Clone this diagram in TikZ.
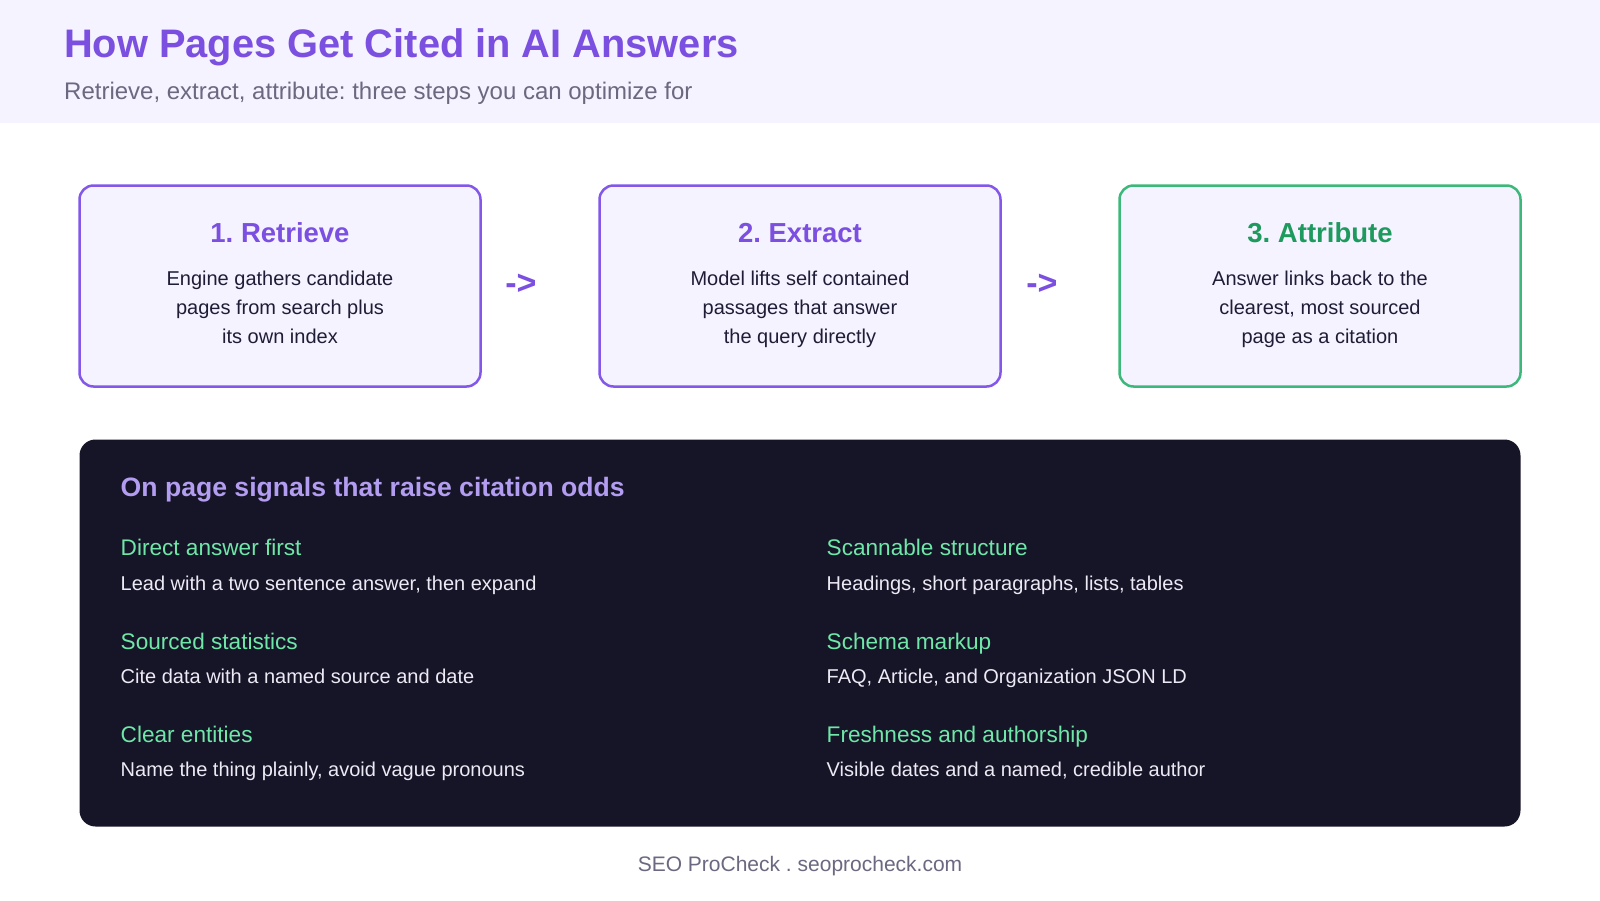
\documentclass[tikz,border=0pt]{standalone}
\usepackage{fontspec}
\setmainfont{Liberation Sans}
\frenchspacing
\definecolor{hdrbg}{HTML}{F5F3FF}
\definecolor{purp}{HTML}{7B4FE0}
\definecolor{purpline}{HTML}{8257E9}
\definecolor{grn}{HTML}{1F9A5E}
\definecolor{grnline}{HTML}{3CB97A}
\definecolor{boxfill}{HTML}{F5F3FF}
\definecolor{bodytxt}{HTML}{1F1D36}
\definecolor{subgray}{HTML}{6B6880}
\definecolor{panel}{HTML}{161427}
\definecolor{paneltitle}{HTML}{B39DF0}
\definecolor{mint}{HTML}{6EE7A8}
\definecolor{desc}{HTML}{ECEAF4}
\tikzset{
  stepbox/.style={draw=purpline, line width=2.5pt, fill=boxfill, rounded corners=14pt,
    minimum width=401pt, minimum height=201pt, inner sep=0pt},
  steptitle/.style={font=\fontsize{27.5}{32}\selectfont\bfseries, anchor=base, inner sep=0pt},
  stepbody/.style={font=\fontsize{20}{29}\selectfont, text=bodytxt, align=center, anchor=center, inner sep=0pt,
    execute at begin node={\strut}, execute at end node={\strut}},
  flowarrow/.style={font=\fontsize{34}{38}\selectfont\bfseries, text=purp, anchor=center, inner sep=0pt},
  sighead/.style={font=\fontsize{22.6}{26}\selectfont, text=mint, anchor=base west, inner sep=0pt},
  sigdesc/.style={font=\fontsize{20}{24}\selectfont, text=desc, anchor=base west, inner sep=0pt},
}
\begin{document}
\begin{tikzpicture}[x=1pt,y=-1pt]
\useasboundingbox (0,0) rectangle (1600,900);
\fill[white] (0,0) rectangle (1600,900);
\fill[hdrbg] (0,0) rectangle (1600,123);
\node[font=\fontsize{39.8}{46}\selectfont\bfseries, text=purp, anchor=base west, inner sep=0pt] (title) at (64,57) {How Pages Get Cited in AI Answers};
\node[font=\fontsize{24}{28}\selectfont, text=subgray, anchor=base west, inner sep=0pt] (subtitle) at (64,99) {Retrieve, extract, attribute: three steps you can optimize for};

\node[stepbox] (b1) at (280,286) {};
\node[stepbox] (b2) at (800,286) {};
\node[stepbox, draw=grnline] (b3) at (1320,286) {};

\node[steptitle, text=purp] (t1) at (280,242) {1. Retrieve};
\node[steptitle, text=purp] (t2) at (800,242) {2. Extract};
\node[steptitle, text=grn] (t3) at (1320,242) {3. Attribute};

\node[stepbody] (d1) at (280,311.5) {Engine gathers candidate\\pages from search plus\\its own index};
\node[stepbody] (d2) at (800,311.5) {Model lifts self contained\\passages that answer\\the query directly};
\node[stepbody] (d3) at (1320,311.5) {Answer links back to the\\clearest, most sourced\\page as a citation};

\node[flowarrow] (a1) at (521,284) {->};
\node[flowarrow] (a2) at (1042,284) {->};

\node[fill=panel, rounded corners=16pt, minimum width=1441pt, minimum height=387pt, inner sep=0pt] (panel) at (800,633) {};
\node[font=\fontsize{26.6}{30}\selectfont\bfseries, text=paneltitle, anchor=base west, inner sep=0pt] (ptitle) at (120.5,496) {On page signals that raise citation odds};

\node[sighead] (h1) at (120.5,555) {Direct answer first};
\node[sigdesc] (s1) at (120.5,590) {Lead with a two sentence answer, then expand};
\node[sighead] (h2) at (120.5,649) {Sourced statistics};
\node[sigdesc] (s2) at (120.5,683) {Cite data with a named source and date};
\node[sighead] (h3) at (120.5,742) {Clear entities};
\node[sigdesc] (s3) at (120.5,776.5) {Name the thing plainly, avoid vague pronouns};

\node[sighead] (h4) at (826.5,555) {Scannable structure};
\node[sigdesc] (s4) at (826.5,590) {Headings, short paragraphs, lists, tables};
\node[sighead] (h5) at (826.5,649) {Schema markup};
\node[sigdesc] (s5) at (826.5,683) {FAQ, Article, and Organization JSON LD};
\node[sighead] (h6) at (826.5,742) {Freshness and authorship};
\node[sigdesc] (s6) at (826.5,776.5) {Visible dates and a named, credible author};

\node[font=\fontsize{21}{25}\selectfont, text=subgray, anchor=base, inner sep=0pt] (footer) at (800,871) {SEO ProCheck . seoprocheck.com};
\end{tikzpicture}
\end{document}
